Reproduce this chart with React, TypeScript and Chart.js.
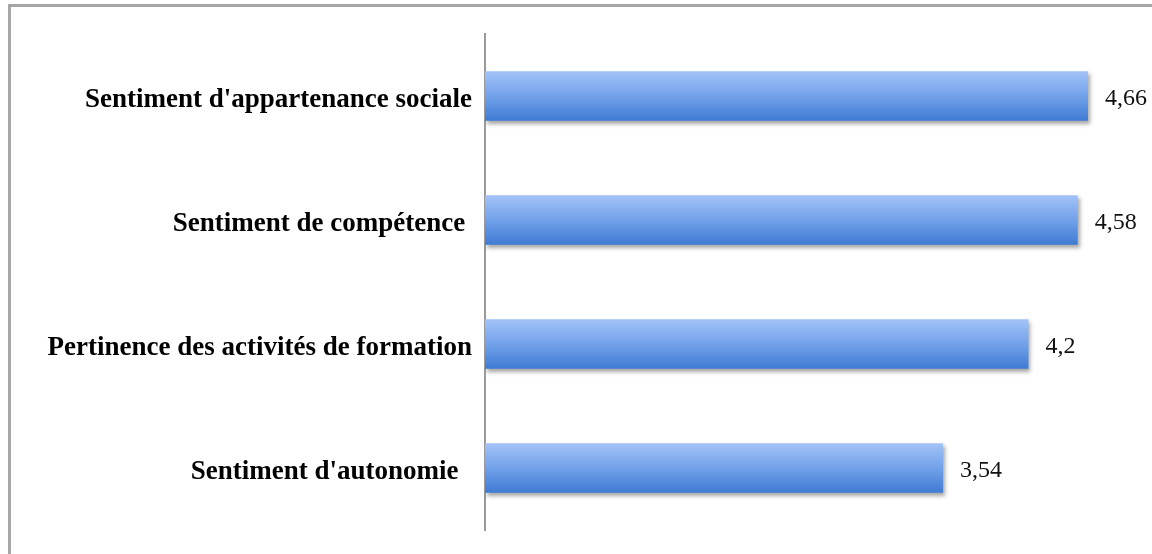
import React, { useEffect, useRef } from "react";
import { Chart, registerables } from "chart.js";

Chart.register(...registerables);

const categories = [
  "Sentiment d'appartenance sociale",
  "Sentiment de compétence ",
  "Pertinence des activités de formation",
  "Sentiment d'autonomie  ",
];
const values = [4.66, 4.58, 4.2, 3.54];
const valueLabels = ["4,66", "4,58", "4,2", "3,54"];

const shadowPlugin = {
  id: "barShadow",
  beforeDatasetsDraw(chart: any) {
    const c = chart.ctx;
    c.save();
    c.shadowColor = "rgba(0,0,0,0.35)";
    c.shadowBlur = 4;
    c.shadowOffsetX = 2;
    c.shadowOffsetY = 3;
  },
  afterDatasetsDraw(chart: any) {
    const c = chart.ctx;
    c.restore();
    const meta = chart.getDatasetMeta(0);
    c.save();
    c.font = "24px 'Liberation Serif', 'Times New Roman', serif";
    c.fillStyle = "#111";
    c.textAlign = "left";
    c.textBaseline = "middle";
    meta.data.forEach((el: any, i: number) => {
      c.fillText(valueLabels[i], el.x + 17, el.y + 3);
    });
    c.restore();
  },
};

export default function App() {
  const ref = useRef<HTMLCanvasElement | null>(null);
  useEffect(() => {
    if (!ref.current) return;
    const chart = new Chart(ref.current, {
      type: "bar",
      data: {
        labels: categories,
        datasets: [
          {
            data: values,
            backgroundColor: (ctx: any) => {
              const ch = ctx.chart;
              const ys = ch.scales && ch.scales.y;
              if (!ch.chartArea || !ys) return "#6a9be6";
              const y = ys.getPixelForValue(ctx.dataIndex);
              const band = ys.height / categories.length;
              const h = band * 0.4;
              const g = ch.ctx.createLinearGradient(0, y - h / 2, 0, y + h / 2);
              g.addColorStop(0, "#a3c3f7");
              g.addColorStop(0.5, "#72a1ea");
              g.addColorStop(1, "#3f7bd3");
              return g;
            },
            borderWidth: 0,
            categoryPercentage: 0.8,
            barPercentage: 0.5,
          },
        ],
      },
      options: {
        indexAxis: "y",
        animation: false,
        responsive: false,
        maintainAspectRatio: false,
        layout: { padding: { left: 0, right: 20, top: 34, bottom: 24 } },
        plugins: {
          legend: { display: false },
          tooltip: { enabled: false },
        },
        scales: {
          x: {
            display: false,
            min: 0,
            max: 5,
          },
          y: {
            grid: { display: false },
            border: { display: true, color: "#9a9a9a", width: 2 },
            afterFit: (scale: any) => {
              scale.width = 485;
            },
            ticks: {
              padding: 5,
              labelOffset: 4,
              color: "#000",
              font: {
                family: "'Liberation Serif', 'Times New Roman', serif",
                size: 27,
                weight: "bold",
              },
            },
          },
        },
      },
      plugins: [shadowPlugin],
    } as any);
    return () => chart.destroy();
  }, []);

  return (
    <div
      style={{
        position: "fixed",
        left: 0,
        top: 0,
        width: 1152,
        height: 554,
        overflow: "hidden",
        background: "#fff",
      }}
    >
      <div
        style={{
          position: "absolute",
          left: 8,
          top: 4,
          width: 1300,
          height: 700,
          borderLeft: "3px solid #a6a6a6",
          borderTop: "3px solid #a6a6a6",
          boxSizing: "border-box",
        }}
      />
      <canvas
        ref={ref}
        width={1152}
        height={554}
        style={{ position: "absolute", left: 0, top: 0, width: 1152, height: 554 }}
      />
    </div>
  );
}
